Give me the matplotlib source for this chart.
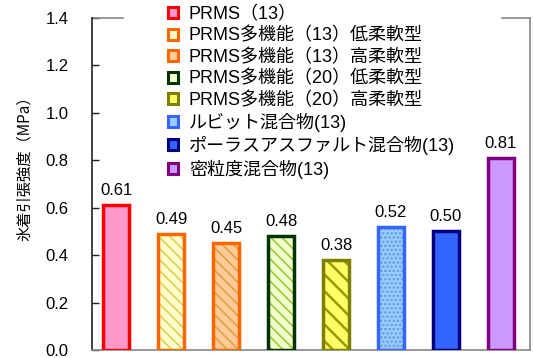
import matplotlib
matplotlib.use("Agg")
import matplotlib.pyplot as plt
from matplotlib.patches import Patch
from matplotlib.lines import Line2D

plt.rcParams['font.family'] = ['Liberation Sans', 'Noto Sans CJK JP', 'DejaVu Sans']

categories = ["PRMS（13）", "PRMS多機能（13）低柔軟型", "PRMS多機能（13）高柔軟型",
              "PRMS多機能（20）低柔軟型", "PRMS多機能（20）高柔軟型",
              "ルビット混合物(13)", "ポーラスアスファルト混合物(13)", "密粒度混合物(13)"]
values = [0.61, 0.49, 0.45, 0.48, 0.38, 0.52, 0.50, 0.81]
value_labels = ["0.61", "0.49", "0.45", "0.48", "0.38", "0.52", "0.50", "0.81"]
yticks = [0.0, 0.2, 0.4, 0.6, 0.8, 1.0, 1.2, 1.4]
ylabel = "氷着引張強度（MPa）"

faces = ["#FF99CC", "#FFFFCC", "#FFCC99", "#F2FFCC", "#FFFF66", "#99CCFF", "#3366FF", "#CC99FF"]
edges = ["#FF0000", "#FF6600", "#FF6600", "#003300", "#808000", "#3366FF", "#000080", "#800080"]
hatches = [None, "\\\\\\", "\\\\\\", "\\\\\\", "\\\\", "....", None, None]
hatch_colors = [None, "#E0CC55", "#E0A040", "#99CC33", "#999900", "#6699DD", None, None]

fig = plt.figure(figsize=(5.33, 3.58), dpi=100)
ax = fig.add_axes([92/533, 1-350/358, 438/533, 332/358])

x = list(range(len(values)))
w = 0.47
for i, v in enumerate(values):
    ax.bar(x[i], v, width=w, color=faces[i], linewidth=0, zorder=2)
    if hatches[i]:
        plt.rcParams['hatch.linewidth'] = 1.8 if i == 4 else 1.2
        ax.bar(x[i], v, width=w, fill=False, hatch=hatches[i],
               edgecolor=hatch_colors[i], linewidth=0, zorder=3)
    ax.bar(x[i], v, width=w, fill=False, edgecolor=edges[i], linewidth=2.5, zorder=4)
    ax.text(x[i], v + 0.03, value_labels[i], ha='center', va='bottom', fontsize=12)

ax.set_xlim(-0.44, 7.53)
ax.set_ylim(0, 1.4)
ax.set_yticks(yticks)
ax.set_yticklabels([f"{t:.1f}" for t in yticks], fontsize=12)
ax.set_xticks([])
ax.tick_params(axis='y', direction='in', length=5, width=1, color='#222222', pad=17)
ax.set_ylabel(ylabel, fontsize=11, family=['Noto Sans CJK JP', 'DejaVu Sans'])
ax.yaxis.set_label_coords(-0.135, 0.557)

ax.spines['top'].set_visible(False)
ax.spines['left'].set_color('#222222')
ax.spines['right'].set_color('#888888')
ax.spines['bottom'].set_color('#888888')
for s in ['left', 'right', 'bottom']:
    ax.spines[s].set_linewidth(1.2)
ax.add_line(Line2D([0, 31/438], [1, 1], transform=ax.transAxes, color='#888888', lw=1.2, clip_on=False))
ax.add_line(Line2D([410/438, 1], [1, 1], transform=ax.transAxes, color='#888888', lw=1.2, clip_on=False))

handles = []
for i in range(len(values)):
    handles.append(Patch(facecolor=faces[i], edgecolor=edges[i], linewidth=2.2))
leg = ax.legend(handles, categories, loc='upper left', bbox_to_anchor=(168/533, 1 - 6/358),
                bbox_transform=fig.transFigure, frameon=False,
                handlelength=0.56, handleheight=0.56, handletextpad=0.6,
                labelspacing=0.23, borderaxespad=0.0, borderpad=0.0,
                prop={'family': ['Liberation Sans', 'Noto Sans CJK JP'], 'size': 13})

fig.savefig("out.png", dpi=100)
